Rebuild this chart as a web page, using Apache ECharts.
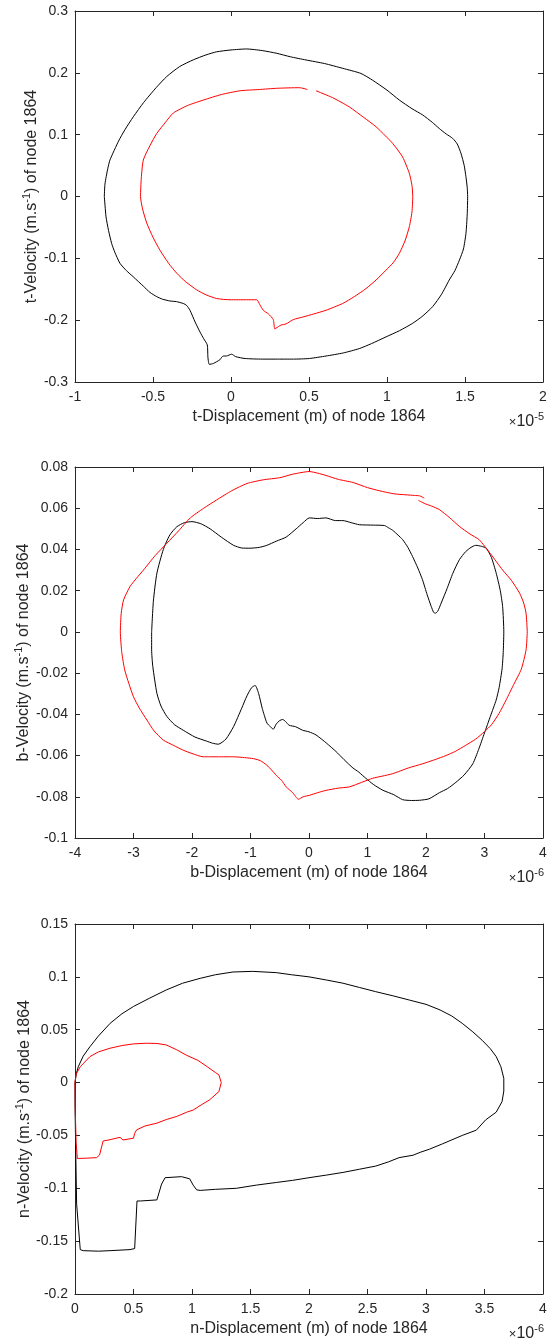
<!DOCTYPE html>
<html>
<head>
<meta charset="utf-8">
<script src="https://cdn.jsdelivr.net/npm/echarts@6.0.0/dist/echarts.min.js"></script>
<style>
html,body{margin:0;padding:0;background:#fff;}
#c{width:556px;height:1344px;}
</style>
</head>
<body>
<div id="c"></div>
<script>
// ---------- DATA (x in units of the exponent label, y in m/s) ----------
const tBlack = [[-0.812,0],[-0.808,0.02],[-0.79,0.045],[-0.776,0.059],[-0.72,0.09],[-0.68,0.108],[-0.626,0.129],[-0.56,0.152],[-0.48,0.176],[-0.412,0.194],[-0.33,0.21],[-0.242,0.221],[-0.16,0.229],[-0.092,0.234],[0.0,0.237],[0.10,0.2386],[0.2,0.236],[0.293,0.2316],[0.38,0.226],[0.481,0.2208],[0.6,0.215],[0.716,0.2073],[0.833,0.199],[0.908,0.188],[1.0,0.172],[1.079,0.156],[1.16,0.142],[1.228,0.132],[1.29,0.12],[1.335,0.11],[1.38,0.101],[1.421,0.094],[1.45,0.085],[1.474,0.07],[1.495,0.05],[1.506,0.032],[1.514,0.015],[1.517,0],[1.514,-0.03],[1.506,-0.06],[1.49,-0.085],[1.464,-0.103],[1.435,-0.12],[1.399,-0.135],[1.35,-0.158],[1.293,-0.178],[1.23,-0.193],[1.165,-0.205],[1.08,-0.217],[0.994,-0.227],[0.9,-0.238],[0.822,-0.246],[0.72,-0.253],[0.609,-0.258],[0.502,-0.262],[0.4,-0.263],[0.288,-0.263],[0.2,-0.263],[0.09,-0.262],[0.03,-0.259],[0.004,-0.255],[-0.03,-0.258],[-0.049,-0.258],[-0.06,-0.26],[-0.071,-0.264],[-0.113,-0.27],[-0.139,-0.2715],[-0.148,-0.26],[-0.152,-0.24],[-0.175,-0.23],[-0.199,-0.219],[-0.23,-0.203],[-0.263,-0.184],[-0.285,-0.176],[-0.306,-0.173],[-0.35,-0.17],[-0.391,-0.169],[-0.44,-0.166],[-0.476,-0.162],[-0.52,-0.155],[-0.562,-0.145],[-0.626,-0.13],[-0.67,-0.12],[-0.712,-0.108],[-0.745,-0.09],[-0.765,-0.076],[-0.785,-0.055],[-0.801,-0.033],[-0.812,0]];
const tRed = [[0.545,0.171],[0.65,0.16],[0.758,0.145],[0.85,0.128],[0.929,0.113],[0.99,0.098],[1.036,0.086],[1.1,0.064],[1.143,0.0375],[1.16,0.018],[1.165,0],[1.16,-0.025],[1.143,-0.049],[1.115,-0.072],[1.079,-0.092],[1.04,-0.107],[0.994,-0.119],[0.93,-0.135],[0.865,-0.149],[0.79,-0.162],[0.716,-0.173],[0.609,-0.184],[0.53,-0.19],[0.46,-0.195],[0.4,-0.199],[0.353,-0.206],[0.32,-0.208],[0.288,-0.213],[0.28,-0.214],[0.271,-0.199],[0.24,-0.19],[0.207,-0.184],[0.185,-0.175],[0.165,-0.167],[0.1,-0.167],[-0.006,-0.167],[-0.092,-0.165],[-0.16,-0.159],[-0.22,-0.151],[-0.29,-0.138],[-0.348,-0.124],[-0.4,-0.108],[-0.455,-0.087],[-0.5,-0.066],[-0.54,-0.043],[-0.567,-0.02],[-0.58,0],[-0.575,0.03],[-0.562,0.059],[-0.52,0.082],[-0.476,0.102],[-0.42,0.12],[-0.37,0.135],[-0.28,0.147],[-0.177,0.156],[-0.06,0.165],[0.058,0.171],[0.18,0.173],[0.293,0.175],[0.438,0.176],[0.49,0.173]];

const bBlack = [[-2.69,0],[-2.66,0.015],[-2.6,0.0285],[-2.49,0.04],[-2.38,0.047],[-2.26,0.051],[-2.13,0.053],[-2.0,0.0535],[-1.85,0.0525],[-1.69,0.05],[-1.5,0.046],[-1.29,0.042],[-1.15,0.0407],[-1.01,0.0406],[-0.85,0.041],[-0.72,0.042],[-0.56,0.044],[-0.39,0.046],[-0.22,0.05],[-0.1,0.053],[0.005,0.0553],[0.15,0.055],[0.29,0.0553],[0.45,0.054],[0.58,0.054],[0.72,0.053],[0.86,0.052],[1.1,0.0518],[1.29,0.0516],[1.36,0.0505],[1.43,0.0493],[1.52,0.047],[1.6,0.0448],[1.69,0.041],[1.77,0.0366],[1.86,0.031],[1.94,0.0253],[2.02,0.018],[2.09,0.0123],[2.13,0.0095],[2.16,0.0091],[2.2,0.01],[2.26,0.014],[2.36,0.021],[2.46,0.0285],[2.57,0.035],[2.68,0.039],[2.77,0.041],[2.85,0.042],[2.95,0.0415],[3.03,0.0406],[3.12,0.036],[3.2,0.0285],[3.27,0.02],[3.31,0.0123],[3.33,0],[3.32,-0.01],[3.3,-0.018],[3.25,-0.027],[3.2,-0.033],[3.1,-0.041],[3.0,-0.049],[2.9,-0.057],[2.8,-0.064],[2.65,-0.0695],[2.51,-0.073],[2.37,-0.076],[2.23,-0.078],[2.05,-0.081],[1.89,-0.0817],[1.75,-0.0818],[1.6,-0.0814],[1.45,-0.079],[1.26,-0.0768],[1.1,-0.074],[0.97,-0.071],[0.85,-0.068],[0.75,-0.066],[0.6,-0.062],[0.46,-0.058],[0.3,-0.054],[0.12,-0.05],[0.0,-0.0485],[-0.11,-0.0477],[-0.23,-0.046],[-0.34,-0.0453],[-0.4,-0.0435],[-0.45,-0.0425],[-0.5,-0.043],[-0.56,-0.0447],[-0.61,-0.0472],[-0.66,-0.046],[-0.72,-0.0442],[-0.8,-0.037],[-0.86,-0.03],[-0.92,-0.026],[-0.98,-0.027],[-1.06,-0.031],[-1.15,-0.037],[-1.29,-0.046],[-1.42,-0.052],[-1.55,-0.0545],[-1.65,-0.054],[-1.75,-0.053],[-1.95,-0.051],[-2.15,-0.0477],[-2.3,-0.045],[-2.43,-0.041],[-2.53,-0.036],[-2.6,-0.0298],[-2.67,-0.0168],[-2.69,-0.0087],[-2.69,0]];
const bRed = [[1.87,0.0638],[2.0,0.062],[2.1,0.061],[2.23,0.0593],[2.4,0.0555],[2.57,0.0512],[2.75,0.0475],[2.91,0.0447],[3.1,0.038],[3.31,0.03],[3.46,0.025],[3.6,0.0188],[3.67,0.014],[3.71,0.0091],[3.73,0],[3.71,-0.0088],[3.63,-0.018],[3.5,-0.0255],[3.37,-0.033],[3.25,-0.0395],[3.12,-0.045],[3.0,-0.0484],[2.85,-0.052],[2.68,-0.055],[2.5,-0.058],[2.34,-0.06],[2.15,-0.062],[1.94,-0.064],[1.7,-0.066],[1.43,-0.0688],[1.25,-0.07],[1.09,-0.071],[0.9,-0.073],[0.69,-0.0752],[0.5,-0.0758],[0.29,-0.0769],[0.15,-0.078],[0.005,-0.0793],[-0.1,-0.08],[-0.18,-0.0812],[-0.28,-0.078],[-0.39,-0.0752],[-0.47,-0.072],[-0.56,-0.0696],[-0.64,-0.067],[-0.72,-0.0647],[-0.83,-0.0625],[-0.95,-0.0615],[-1.1,-0.061],[-1.29,-0.0606],[-1.55,-0.0606],[-1.81,-0.0606],[-2.0,-0.059],[-2.15,-0.0574],[-2.32,-0.055],[-2.49,-0.0525],[-2.65,-0.048],[-2.77,-0.0428],[-2.9,-0.037],[-3.0,-0.0315],[-3.08,-0.025],[-3.15,-0.0185],[-3.2,-0.01],[-3.225,0],[-3.21,0.009],[-3.17,0.0155],[-3.06,0.022],[-2.95,0.026],[-2.83,0.03],[-2.63,0.037],[-2.43,0.043],[-2.23,0.049],[-2.03,0.0553],[-1.8,0.06],[-1.58,0.064],[-1.32,0.0685],[-1.06,0.072],[-0.78,0.0738],[-0.5,0.0748],[-0.28,0.0765],[0.005,0.0778],[0.15,0.077],[0.29,0.0759],[0.5,0.074],[0.75,0.0725],[1.0,0.07],[1.2,0.0685],[1.45,0.067],[1.66,0.0665],[1.8,0.0662],[1.89,0.066],[1.97,0.0649]];

const nBlack = [[0,0],[0.01,0.008],[0.028,0.015],[0.07,0.025],[0.128,0.034],[0.2,0.044],[0.3,0.056],[0.4,0.065],[0.5,0.072],[0.64,0.08],[0.78,0.0876],[0.92,0.094],[1.07,0.0986],[1.2,0.102],[1.35,0.1046],[1.52,0.1052],[1.72,0.104],[1.85,0.102],[2.0,0.1],[2.15,0.097],[2.29,0.094],[2.43,0.09],[2.57,0.086],[2.72,0.082],[2.86,0.078],[3.0,0.074],[3.12,0.0687],[3.22,0.063],[3.31,0.056],[3.4,0.048],[3.48,0.04],[3.55,0.032],[3.6,0.0246],[3.64,0.015],[3.665,0.004],[3.665,-0.008],[3.65,-0.018],[3.6,-0.028],[3.51,-0.0353],[3.43,-0.045],[3.31,-0.05],[3.14,-0.058],[3.03,-0.063],[2.95,-0.066],[2.89,-0.0687],[2.77,-0.071],[2.68,-0.075],[2.57,-0.079],[2.43,-0.082],[2.29,-0.085],[2.15,-0.0875],[2.0,-0.09],[1.86,-0.0925],[1.72,-0.0945],[1.55,-0.097],[1.38,-0.1],[1.2,-0.101],[1.07,-0.102],[1.04,-0.1015],[1.01,-0.097],[0.98,-0.091],[0.91,-0.089],[0.77,-0.09],[0.74,-0.096],[0.7,-0.111],[0.56,-0.112],[0.53,-0.112],[0.51,-0.157],[0.47,-0.158],[0.3,-0.159],[0.2,-0.1595],[0.07,-0.159],[0.045,-0.158],[0.014,-0.115],[0.005,-0.057],[0,-0.02],[0,0]];
const nRed = [[0,0],[0.01,0.008],[0.045,0.015],[0.128,0.0246],[0.2,0.029],[0.3,0.0325],[0.4,0.035],[0.5,0.0366],[0.61,0.0372],[0.7,0.037],[0.78,0.0356],[0.87,0.031],[0.95,0.026],[1.05,0.021],[1.13,0.015],[1.2,0.0095],[1.23,0.0073],[1.25,0],[1.23,-0.0085],[1.15,-0.0164],[1.08,-0.021],[1.01,-0.026],[0.955,-0.028],[0.87,-0.032],[0.78,-0.035],[0.7,-0.0384],[0.6,-0.041],[0.527,-0.0447],[0.51,-0.048],[0.5,-0.0526],[0.41,-0.0543],[0.385,-0.0518],[0.3,-0.054],[0.24,-0.0553],[0.21,-0.0685],[0.185,-0.071],[0.1,-0.0715],[0.02,-0.0718],[0.01,-0.057],[0.003,-0.03],[0,0]];

// axis ranges [min, max, interval]
const xRanges = [[-1, 2, 0.5], [-4, 4, 1], [0, 4, 0.5]];
const yRanges = [[-0.3, 0.3, 0.1], [-0.1, 0.08, 0.02], [-0.2, 0.15, 0.05]];
const xNames = ['t-Displacement (m) of node 1864', 'b-Displacement (m) of node 1864', 'n-Displacement (m) of node 1864'];
const yNames = ['t-Velocity (m.s{sup|-1}) of node 1864', 'b-Velocity (m.s{sup|-1}) of node 1864', 'n-Velocity (m.s{sup|-1}) of node 1864'];
const exponents = ['-5', '-6', '-6'];

// ---------- CHART ----------
const TXT = '#262626';
const FONT = 'Liberation Sans, Arial, Helvetica, sans-serif';
const grids = [
  {left: 75, top: 11, width: 468, height: 371},
  {left: 75, top: 467, width: 468, height: 371},
  {left: 75, top: 924, width: 468, height: 370}
];
const yNameGaps = [32, 40, 39];
const xAxis = [], yAxis = [], series = [], graphic = [];
const lineCommon = {lineStyle: {color: TXT, width: 1}, onZero: false};
const tickCommon = {inside: true, length: 5, lineStyle: {color: TXT, width: 1}};
for (let g = 0; g < 3; g++) {
  const [xmin, xmax, xi] = xRanges[g];
  const [ymin, ymax, yi] = yRanges[g];
  xAxis.push({
    type: 'value', gridIndex: g, position: 'bottom', min: xmin, max: xmax, interval: xi,
    axisLine: lineCommon, axisTick: tickCommon, splitLine: {show: false},
    axisLabel: {color: TXT, fontSize: 14, fontFamily: FONT, margin: 8},
    name: xNames[g], nameLocation: 'middle', nameGap: 27, nameMoveOverlap: false,
    nameTextStyle: {color: TXT, fontSize: 16, fontFamily: FONT}
  });
  xAxis.push({
    type: 'value', gridIndex: g, position: 'top', min: xmin, max: xmax, interval: xi,
    axisLine: lineCommon, axisTick: tickCommon, splitLine: {show: false},
    axisLabel: {show: false}
  });
  yAxis.push({
    type: 'value', gridIndex: g, position: 'left', min: ymin, max: ymax, interval: yi,
    axisLine: lineCommon, axisTick: tickCommon, splitLine: {show: false},
    axisLabel: {color: TXT, fontSize: 14, fontFamily: FONT, margin: 7},
    name: yNames[g], nameLocation: 'middle', nameGap: yNameGaps[g], nameRotate: 90, nameMoveOverlap: false,
    nameTextStyle: {color: TXT, fontSize: 16, fontFamily: FONT, lineHeight: 22,
      rich: {sup: {fontSize: 11, fontFamily: FONT, color: TXT, lineHeight: 12, verticalAlign: 'top'}}}
  });
  yAxis.push({
    type: 'value', gridIndex: g, position: 'right', min: ymin, max: ymax, interval: yi,
    axisLine: lineCommon, axisTick: tickCommon, splitLine: {show: false},
    axisLabel: {show: false}
  });
  const top = grids[g].top + grids[g].height;
  graphic.push({
    type: 'text', right: 12, top: top + 29,
    style: {
      text: '{m|×}10{sup|' + exponents[g] + '}',
      fill: TXT, fontSize: 16, fontFamily: FONT, lineHeight: 22,
      rich: {
        m: {fontSize: 13, fontFamily: FONT, fill: TXT, lineHeight: 22},
        sup: {fontSize: 11, fontFamily: FONT, fill: TXT, lineHeight: 12, verticalAlign: 'top'}
      }
    }
  });
}
const curves = [[tBlack, tRed], [bBlack, bRed], [nBlack, nRed]];
const colors = ['#000000', '#ff0000'];
for (let g = 0; g < 3; g++) {
  for (let k = 0; k < 2; k++) {
    series.push({
      type: 'line', xAxisIndex: 2 * g, yAxisIndex: 2 * g,
      data: curves[g][k], showSymbol: false, symbol: 'none',
      smooth: g === 2 ? false : 0.2,
      lineStyle: {color: colors[k], width: 1},
      animation: false, silent: true
    });
  }
}
const chart = echarts.init(document.getElementById('c'), null, {renderer: 'canvas'});
chart.setOption({
  animation: false,
  backgroundColor: '#ffffff',
  grid: grids, xAxis: xAxis, yAxis: yAxis, series: series, graphic: graphic
});
</script>
</body>
</html>
